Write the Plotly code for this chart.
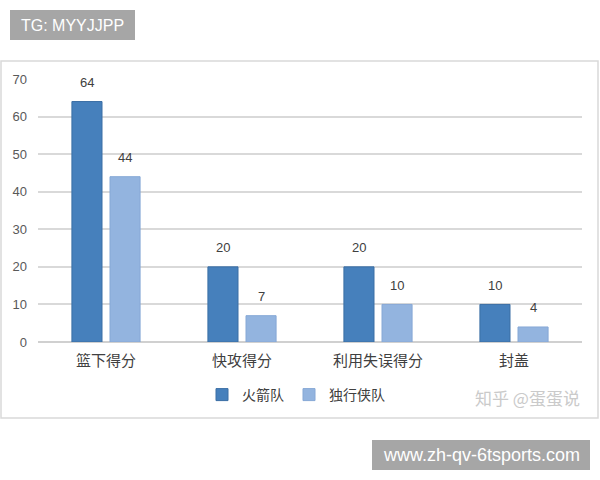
import plotly.graph_objects as go

categories = ['篮下得分', '快攻得分', '利用失误得分', '封盖']
rockets = [64, 20, 20, 10]
mavericks = [44, 7, 10, 4]
series_names = ['火箭队', '独行侠队']
y_ticks = [0, 10, 20, 30, 40, 50, 60, 70]

W, H = 600, 480
L, R, T, B = 38, 18, 79, 138
CJK = 'Noto Sans CJK SC, Noto Sans, sans-serif'
LAT = 'Liberation Sans, Arial, sans-serif'


def px(x):
  # pixel -> paper x
  return (x - L) / (W - L - R)


def py(y):
  # pixel -> paper y
  return (H - B - y) / (H - T - B)


fig = go.Figure()
fig.add_trace(go.Bar(x=categories, y=rockets, name=series_names[0],
                     marker=dict(color='#4680bc', line=dict(color='#3a6ea5', width=1))))
fig.add_trace(go.Bar(x=categories, y=mavericks, name=series_names[1],
                     marker=dict(color='#93b4df', line=dict(color='#86a8d6', width=1))))

annotations = []
for vals, shift in [(rockets, -19), (mavericks, 19)]:
  for c, v in zip(categories, vals):
    annotations.append(dict(x=c, y=v, text=str(v), showarrow=False, xshift=shift, yshift=19,
                            yanchor='middle', font=dict(family=LAT, size=13, color='#404040')))

# watermark
annotations.append(dict(xref='paper', yref='paper', x=px(527), y=py(397), text='知乎 @蛋蛋说',
                        xanchor='center', yanchor='middle', showarrow=False,
                        font=dict(family=CJK, size=17, color='#cacaca')))
# grey tag boxes
annotations.append(dict(xref='paper', yref='paper', x=px(72.5), y=py(25), text='TG: MYYJJPP',
                        xanchor='center', yanchor='middle', showarrow=False,
                        font=dict(family=LAT, size=16, color='white')))
annotations.append(dict(xref='paper', yref='paper', x=px(481), y=py(455), text='www.zh-qv-6tsports.com',
                        xanchor='center', yanchor='middle', showarrow=False,
                        font=dict(family=LAT, size=18, color='white')))

shapes = [
  dict(type='rect', xref='paper', yref='paper', x0=px(1), x1=px(598), y0=py(418), y1=py(61),
       line=dict(color='#d9d9d9', width=1.5), fillcolor='rgba(0,0,0,0)', layer='below'),
  dict(type='rect', xref='paper', yref='paper', x0=px(10), x1=px(135), y0=py(40), y1=py(10),
       line=dict(width=0), fillcolor='#a6a6a6', layer='below'),
  dict(type='rect', xref='paper', yref='paper', x0=px(372), x1=px(590), y0=py(470), y1=py(440),
       line=dict(width=0), fillcolor='#a6a6a6', layer='below'),
]

fig.update_layout(
  width=W, height=H,
  margin=dict(l=L, r=R, t=T, b=B),
  paper_bgcolor='white', plot_bgcolor='white',
  barmode='group', bargap=0.44, bargroupgap=0.21,
  showlegend=True,
  legend=dict(orientation='h', x=px(296), xanchor='center', y=py(395), yanchor='middle',
              font=dict(family=CJK, size=14, color='#404040'), itemwidth=30, tracegroupgap=0),
  annotations=annotations,
  shapes=shapes,
)
fig.update_xaxes(showgrid=False, showline=False, ticks='', ticklabelstandoff=8,
                 tickfont=dict(family=CJK, size=15, color='#404040'))
fig.update_yaxes(range=[0, 70], tickvals=y_ticks, showgrid=True, gridcolor='#d9d9d9', gridwidth=1.5,
                 zeroline=True, zerolinecolor='#d0d0d0', zerolinewidth=1.5, showline=False,
                 ticklabelstandoff=10, tickfont=dict(family=LAT, size=13, color='#595959'))

# drop the default 8px page margin so the figure sits at the top-left corner
fig.write_html("out.html", config={'displayModeBar': False},
               post_script="document.body.style.margin='0';")
